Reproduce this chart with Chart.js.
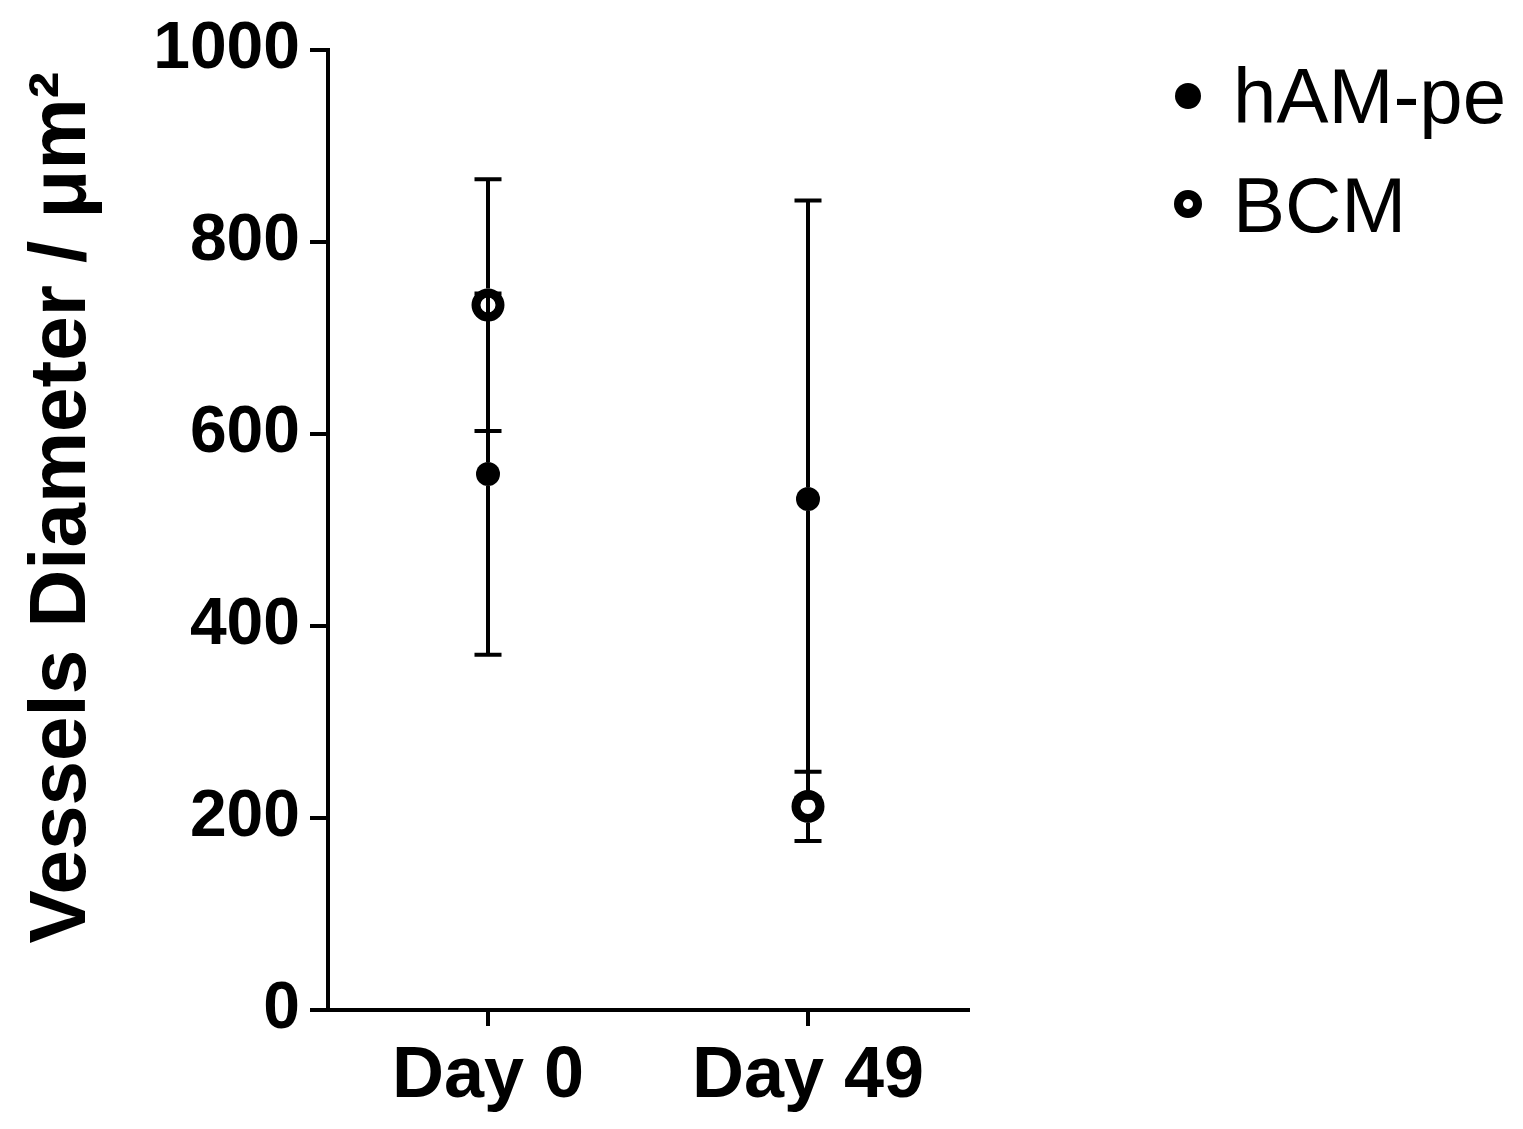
<!DOCTYPE html>
<html>
<head>
<meta charset="utf-8">
<script src="https://cdn.jsdelivr.net/npm/chart.js@4"></script>
<style>
  body { margin: 0; background: #fff; }
  #wrap { position: relative; width: 1523px; height: 1129px; }
  .legend-text { position: absolute; left: 1233px; font: 78px "Liberation Sans", Arial, sans-serif; line-height: 78px; color: #000; }
  .dot { position: absolute; border-radius: 50%; box-sizing: border-box; }
</style>
</head>
<body>
<div id="wrap">
  <canvas id="vesselChart" width="1523" height="1129"></canvas>
  <span class="dot" style="left:1175px;top:83px;width:26px;height:26px;background:#000;"></span>
  <div class="legend-text" style="top:57px;">hAM-pe</div>
  <span class="dot" style="left:1174px;top:190px;width:28px;height:28px;border:9px solid #000;"></span>
  <div class="legend-text" style="top:166px;">BCM</div>
</div>
<script>
const days = ['Day 0', 'Day 49'];
const hamMean = [558, 532];
const hamErr = [188, 311];
const bcmMean = [734, 212];
const bcmErr = [131, 36];
const yTicks = [0, 200, 400, 600, 800, 1000];

// error bars, drawn under the markers; they stop at the edge of their own marker
const errorBars = {
    id: 'errorBars',
    beforeDatasetsDraw(chart) {
        const ctx = chart.ctx;
        const x = chart.scales.x, y = chart.scales.y;
        ctx.save();
        ctx.strokeStyle = '#000';
        ctx.lineWidth = 4;
        chart.data.datasets.forEach(ds => {
            ds.data.forEach((v, i) => {
                const px = x.getPixelForValue(i);
                const py = y.getPixelForValue(v);
                const top = y.getPixelForValue(v + ds.err[i]);
                const bot = y.getPixelForValue(v - ds.err[i]);
                const gap = ds.pointRadius + ds.pointBorderWidth / 2;
                ctx.beginPath();
                ctx.moveTo(px, top); ctx.lineTo(px, py - gap);
                ctx.moveTo(px, py + gap); ctx.lineTo(px, bot);
                ctx.moveTo(px - 13.5, top); ctx.lineTo(px + 13.5, top);
                ctx.moveTo(px - 13.5, bot); ctx.lineTo(px + 13.5, bot);
                ctx.stroke();
            });
        });
        ctx.restore();
    }
};

new Chart(document.getElementById('vesselChart'), {
    type: 'line',
    data: {
        labels: days,
        datasets: [{
            label: 'hAM-pe',
            data: hamMean,
            err: hamErr,
            showLine: false,
            pointRadius: 12,
            pointBorderWidth: 0,
            pointBackgroundColor: '#000',
            pointBorderColor: '#000'
        }, {
            label: 'BCM',
            data: bcmMean,
            err: bcmErr,
            showLine: false,
            pointRadius: 12,
            pointBorderWidth: 9,
            pointBackgroundColor: 'rgba(0,0,0,0)',
            pointBorderColor: '#000'
        }]
    },
    options: {
        responsive: false,
        animation: false,
        layout: { padding: { left: 0, top: 40, right: 555, bottom: 0 } },
        plugins: { legend: { display: false }, tooltip: { enabled: false } },
        scales: {
            x: {
                offset: true,
                afterFit(scale) { scale.height = 119; },
                border: { color: '#000', width: 4 },
                grid: { drawOnChartArea: false, drawTicks: true, tickLength: 16, lineWidth: 4, color: '#000', offset: false },
                ticks: { color: '#000', padding: 8, font: { family: '"Liberation Sans", Arial', size: 72, weight: 'bold' } }
            },
            y: {
                min: 0,
                max: 1000,
                afterFit(scale) { scale.width = 328; },
                afterBuildTicks(scale) { scale.ticks = yTicks.map(v => ({ value: v })); },
                border: { color: '#000', width: 4 },
                grid: { drawOnChartArea: false, drawTicks: true, tickLength: 18, lineWidth: 4, color: '#000' },
                ticks: {
                    color: '#000',
                    padding: 10,
                    font: { family: '"Liberation Sans", Arial', size: 66, weight: 'bold' },
                    callback: v => String(v)
                },
                title: {
                    display: true,
                    text: '\u00A0\u00A0Vessels Diameter / μm²',
                    color: '#000',
                    padding: { top: 15, bottom: 0 },
                    font: { family: '"Liberation Sans", Arial', size: 80, weight: 'bold' }
                }
            }
        }
    },
    plugins: [errorBars]
});
</script>
</body>
</html>
